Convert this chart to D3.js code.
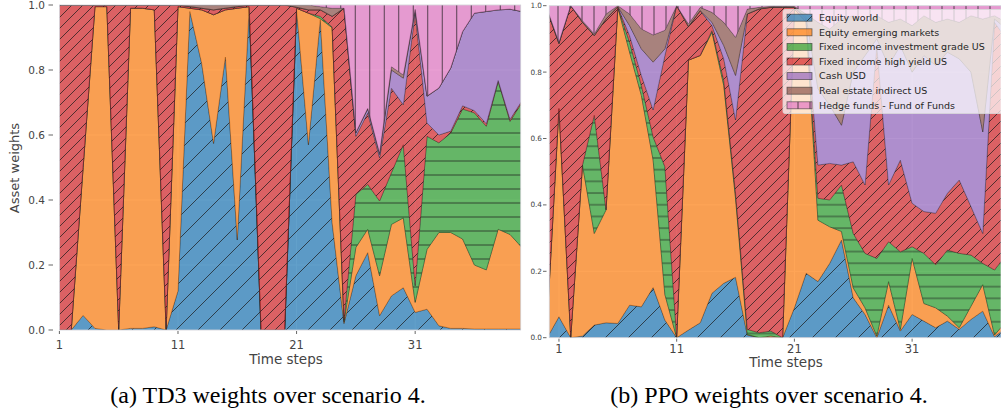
<!DOCTYPE html>
<html>
<head>
<meta charset="UTF-8">
<title></title>
<script src="https://cdn.jsdelivr.net/npm/d3@7"></script>
<style>
    body{margin:0;background:#fff;}
    svg text{font-family:"DejaVu Sans",sans-serif;}
    svg text.caption{font-family:"Liberation Serif","Times New Roman",serif;fill:#000;}
</style>
</head>
<body>
<svg id="fig" width="1001" height="414"></svg>
<script>
// asset classes, in stacking order
var assetNames = ["Equity world", "Equity emerging markets", "Fixed income investment grade US",
    "Fixed income high yield US", "Cash USD", "Real estate indirect US", "Hedge funds - Fund of Funds"];
var tickSteps = [1, 11, 21, 31];
var yTicks = [0, 0.2, 0.4, 0.6, 0.8, 1.0];

// (a) TD3, steps 1..40
var td3Steps = d3.range(1, 41);
var td3World = [0,0,.045,.005,0,0,.005,.005,.01,0, .12,.98,.82,.574,.84,.277,.99,0,0,0,
    .985,.57,.955,.33,.02,.167,.238,.044,.105,.13, .054,.064,.013,.005,.005,.003,.003,.003,.003,.003];
var td3Emerging = [0,0,.455,.99,.995,0,.985,.985,.975,0, .875,.01,.165,.396,.145,.713,.005,0,0,0,
    .005,.405,.003,.60,.005,.087,.072,.123,.22,.215, .031,.184,.287,.295,.275,.197,.182,.307,.291,.251];
var td3IG = [0,0,0,0,0,0,0,0,0,0, 0,0,0,0,0,0,0,0,0,0,
    0,0,.007,.002,.005,.163,.138,.23,.159,.225, .051,.348,.276,.306,.40,.468,.442,.455,.348,.446];
var td3HY = [1,1,.5,.005,.005,1,.01,.01,.015,1, .005,.005,.005,.015,.005,.005,.005,1,1,1,
    .003,.01,.02,.033,.96,.179,.22,.133,.26,.123, .839,.041,.024,.006,.01,.007,.008,.003,.006,.005];
var td3Cash = [0,0,0,0,0,0,0,0,0,0, 0,0,0,0,0,0,0,0,0,0,
    0,0,0,0,0,.01,.012,.01,.056,.082, .01,.082,.144,.194,.228,.30,.345,.217,.339,.275];
var td3RealEstate = [0,0,0,0,0,0,0,0,0,0, 0,.005,.01,.015,.01,.005,0,0,0,0,
    .007,.015,.01,.025,0,.002,.002,.005,.01,.01, .002,.001,.001,0,0,0,0,0,0,0];
var td3Hedge = [0,0,0,0,0,0,0,0,0,0, 0,0,0,0,0,0,0,0,0,0,
    0,0,.005,.01,.01,.392,.318,.455,.19,.215, .013,.28,.255,.194,.082,.025,.02,.015,.013,.02];

// (b) PPO, steps 0..39
var ppoSteps = d3.range(0, 40);
var ppoWorld = [0,.063,0,.005,.038,.045,.043,.098,.093,.151, .053,0,.023,.045,.134,.164,.182,.008,0,0,
    0,.09,.194,.169,.224,.294,.12,.07,0,.098, .02,.07,.05,.03,.05,.025,.055,.08,.003,.03];
var ppoEmerging = [.05,.627,0,.515,.276,.34,.952,.762,.637,.384, .077,0,.813,.805,.786,.596,.238,.002,0,.005,
    0,.90,.756,.185,.11,.026,.03,.02,.005,.071, .005,.169,.053,.06,.015,.005,.04,.08,.005,.02];
var ppoIG = [0,0,0,0,.356,0,0,.03,.03,.07, .385,0,0,0,.005,.015,.015,.015,.015,.015,
    0,0,0,.066,.081,.14,.164,.164,.234,.12, .234,.035,.151,.13,.199,.224,.154,.064,.196,.20];
var ppoHY = [.935,.196,1,.43,.24,.575,.002,.02,.03,.081, .335,1,.101,.135,.015,.065,.221,.95,.975,.975,
    .995,.005,.01,.10,.11,.06,.216,.206,.641,.171, .276,.131,.126,.155,.171,.221,.146,.09,.746,.65];
var ppoCash = [0,0,0,0,0,0,0,.03,.08,.144, .02,0,0,0,.01,.04,.134,0,0,0,
    0,0,.005,.23,.175,.12,.27,.39,.02,.36, .345,.395,.47,.445,.425,.365,.405,.306,.01,.03];
var ppoRealEstate = [.005,.004,0,.005,.005,.015,.003,.035,.06,.082, .056,0,.008,.01,.03,.07,.115,.015,.005,.003,
    .003,.003,.01,.20,.23,.32,.17,.10,.07,.13, .08,.14,.12,.13,.10,.11,.17,.34,.01,.02];
var ppoHedge = [.01,.11,0,.045,.085,.025,0,.025,.07,.088, .074,0,.055,.005,.02,.05,.095,.01,.005,.002,
    .002,.002,.025,.05,.07,.04,.03,.05,.03,.05, .04,.06,.03,.05,.04,.05,.03,.04,.03,.05];

var colors = ["#1f77b4", "#ff7f0e", "#2ca02c", "#d62728", "#9467bd", "#8c564b", "#e377c2"];
var hatches = ["/", "", "-", "//", "", "", "|"];
var keys = ["w", "e", "ig", "hy", "c", "re", "hf"];

function buildRows(steps, cols) {
    return steps.map(function (s, i) {
        var r = {step: s};
        keys.forEach(function (k, j) { r[k] = cols[j][i]; });
        return r;
    });
}

var svg = d3.select("#fig");
var defs = svg.append("defs");

function makePatterns(id, sp) {
    function pat(name, w, h, d) {
        var p = defs.append("pattern").attr("id", id + name)
            .attr("patternUnits", "userSpaceOnUse").attr("width", w).attr("height", h);
        p.append("path").attr("d", d).attr("stroke", "#1a1a1a").attr("stroke-opacity", 0.8)
            .attr("stroke-width", 0.9).attr("fill", "none");
    }
    var a = sp.diag1, b = sp.diag2;
    pat("-d1", a, a, "M0," + a + "L" + a + ",0M-2,2L2,-2M" + (a - 2) + "," + (a + 2) + "L" + (a + 2) + "," + (a - 2));
    pat("-d2", b, b, "M0," + b + "L" + b + ",0M-2,2L2,-2M" + (b - 2) + "," + (b + 2) + "L" + (b + 2) + "," + (b - 2));
    pat("-h", 10, sp.horiz, "M0," + (sp.horiz / 2) + "H10");
    pat("-v", sp.vert, 10, "M" + (sp.vert / 2) + ",0V10");
}
function hatchUrl(id, h) {
    if (h === "/") return "url(#" + id + "-d1)";
    if (h === "//") return "url(#" + id + "-d2)";
    if (h === "-") return "url(#" + id + "-h)";
    if (h === "|") return "url(#" + id + "-v)";
    return null;
}

function drawPanel(p) {
    makePatterns(p.id, p.spacing);
    var x = d3.scaleLinear().domain(p.xDomain).range([p.left, p.right]);
    var y = d3.scaleLinear().domain([0, 1]).range([p.bottom, p.top]);
    var g = svg.append("g");

    defs.append("clipPath").attr("id", p.id + "-clip").append("rect")
        .attr("x", p.left).attr("y", p.top).attr("width", p.right - p.left).attr("height", p.bottom - p.top);

    g.append("rect").attr("x", p.left).attr("y", p.top)
        .attr("width", p.right - p.left).attr("height", p.bottom - p.top).attr("fill", "#eaeaf2");

    var grid = g.append("g").attr("stroke", "#fff").attr("stroke-width", 1);
    yTicks.forEach(function (t) {
        grid.append("line").attr("x1", p.left).attr("x2", p.right).attr("y1", y(t)).attr("y2", y(t));
    });
    tickSteps.forEach(function (t) {
        grid.append("line").attr("x1", x(t)).attr("x2", x(t)).attr("y1", p.top).attr("y2", p.bottom);
    });

    var stacked = d3.stack().keys(keys)(p.rows);
    var area = d3.area().x(function (d) { return x(d.data.step); })
        .y0(function (d) { return y(d[0]); }).y1(function (d) { return y(d[1]); });
    var topLine = d3.line().x(function (d) { return x(d.data.step); })
        .y(function (d) { return y(d[1]); });

    var plot = g.append("g").attr("clip-path", "url(#" + p.id + "-clip)");
    stacked.forEach(function (layer, i) {
        plot.append("path").attr("d", area(layer)).attr("fill", colors[i]).attr("fill-opacity", 0.7);
        var hu = hatchUrl(p.id, hatches[i]);
        if (hu) plot.append("path").attr("d", area(layer)).attr("fill", hu);
        if (i < stacked.length - 1)
            plot.append("path").attr("d", topLine(layer)).attr("fill", "none")
                .attr("stroke", "#2a2a2a").attr("stroke-opacity", 0.8).attr("stroke-width", 0.9);
    });
    g.append("rect").attr("x", p.left).attr("y", p.top)
        .attr("width", p.right - p.left).attr("height", p.bottom - p.top)
        .attr("fill", "none").attr("stroke", "#cfcfd6").attr("stroke-width", 0.8);

    // y ticks
    yTicks.forEach(function (t) {
        g.append("line").attr("x1", p.yTickX[0]).attr("x2", p.yTickX[1]).attr("y1", y(t)).attr("y2", y(t))
            .attr("stroke", "#555").attr("stroke-width", 0.9);
        g.append("text").attr("x", p.yLabelX).attr("y", y(t)).attr("dy", "0.35em")
            .attr("text-anchor", "end").attr("font-size", p.yFont).attr("fill", "#444")
            .text(d3.format(".1f")(t));
    });
    // x ticks
    tickSteps.forEach(function (t) {
        g.append("line").attr("x1", x(t)).attr("x2", x(t)).attr("y1", p.bottom + 1).attr("y2", p.bottom + 4)
            .attr("stroke", "#555").attr("stroke-width", 0.9);
        g.append("text").attr("x", x(t)).attr("y", p.xLabelY).attr("text-anchor", "middle")
            .attr("font-size", 11.5).attr("fill", "#444").text(t);
    });
    g.append("text").attr("x", p.titleX).attr("y", p.titleY).attr("text-anchor", "middle")
        .attr("font-size", 13.5).attr("fill", "#444").text("Time steps");
    return {x: x, y: y};
}

drawPanel({
    id: "td3", rows: buildRows(td3Steps, [td3World, td3Emerging, td3IG, td3HY, td3Cash, td3RealEstate, td3Hedge]),
    xDomain: [1, 39.9], left: 59.4, right: 520.7, top: 5, bottom: 330,
    spacing: {diag1: 22, diag2: 11, horiz: 14, vert: 14.5},
    yTickX: [48.5, 53], yLabelX: 45, yFont: 10.5, xLabelY: 349, titleX: 286, titleY: 364
});
svg.append("text").attr("transform", "translate(19,168) rotate(-90)").attr("text-anchor", "middle")
    .attr("font-size", 13).attr("fill", "#444").text("Asset weights");

drawPanel({
    id: "ppo", rows: buildRows(ppoSteps, [ppoWorld, ppoEmerging, ppoIG, ppoHY, ppoCash, ppoRealEstate, ppoHedge]),
    xDomain: [0.18, 38.55], left: 549.3, right: 1001, top: 5.7, bottom: 337.7,
    spacing: {diag1: 23, diag2: 11, horiz: 11.7, vert: 12},
    yTickX: [543, 546.5], yLabelX: 542, yFont: 7.3, xLabelY: 353, titleX: 786, titleY: 367
});

// legend of panel (b)
var lg = svg.append("g");
lg.append("rect").attr("x", 783).attr("y", 9.5).attr("width", 230).attr("height", 104)
    .attr("rx", 2).attr("fill", "#fff").attr("fill-opacity", 0.72).attr("stroke", "#d8d8d8").attr("stroke-width", 0.8);
assetNames.forEach(function (name, i) {
    var cy = 17.7 + i * 14.6;
    lg.append("rect").attr("x", 787).attr("y", cy - 3.5).attr("width", 25).attr("height", 7)
        .attr("fill", colors[i]).attr("fill-opacity", 0.7);
    var hu = hatchUrl("ppo", hatches[i]);
    if (hu) lg.append("rect").attr("x", 787).attr("y", cy - 3.5).attr("width", 25).attr("height", 7).attr("fill", hu);
    lg.append("rect").attr("x", 787).attr("y", cy - 3.5).attr("width", 25).attr("height", 7)
        .attr("fill", "none").attr("stroke", "#333").attr("stroke-opacity", 0.7).attr("stroke-width", 0.8);
    lg.append("text").attr("x", 819).attr("y", cy).attr("dy", "0.35em").attr("font-size", 9.5)
        .attr("fill", "#262626").text(name);
});

// captions
svg.append("text").attr("class", "caption").attr("x", 268).attr("y", 403).attr("text-anchor", "middle")
    .style("font-family", "'Liberation Serif', 'Times New Roman', serif")
    .attr("font-size", 24).text("(a) TD3 weights over scenario 4.");
svg.append("text").attr("class", "caption").attr("x", 769).attr("y", 403).attr("text-anchor", "middle")
    .style("font-family", "'Liberation Serif', 'Times New Roman', serif")
    .attr("font-size", 24).text("(b) PPO weights over scenario 4.");
</script>
</body>
</html>
